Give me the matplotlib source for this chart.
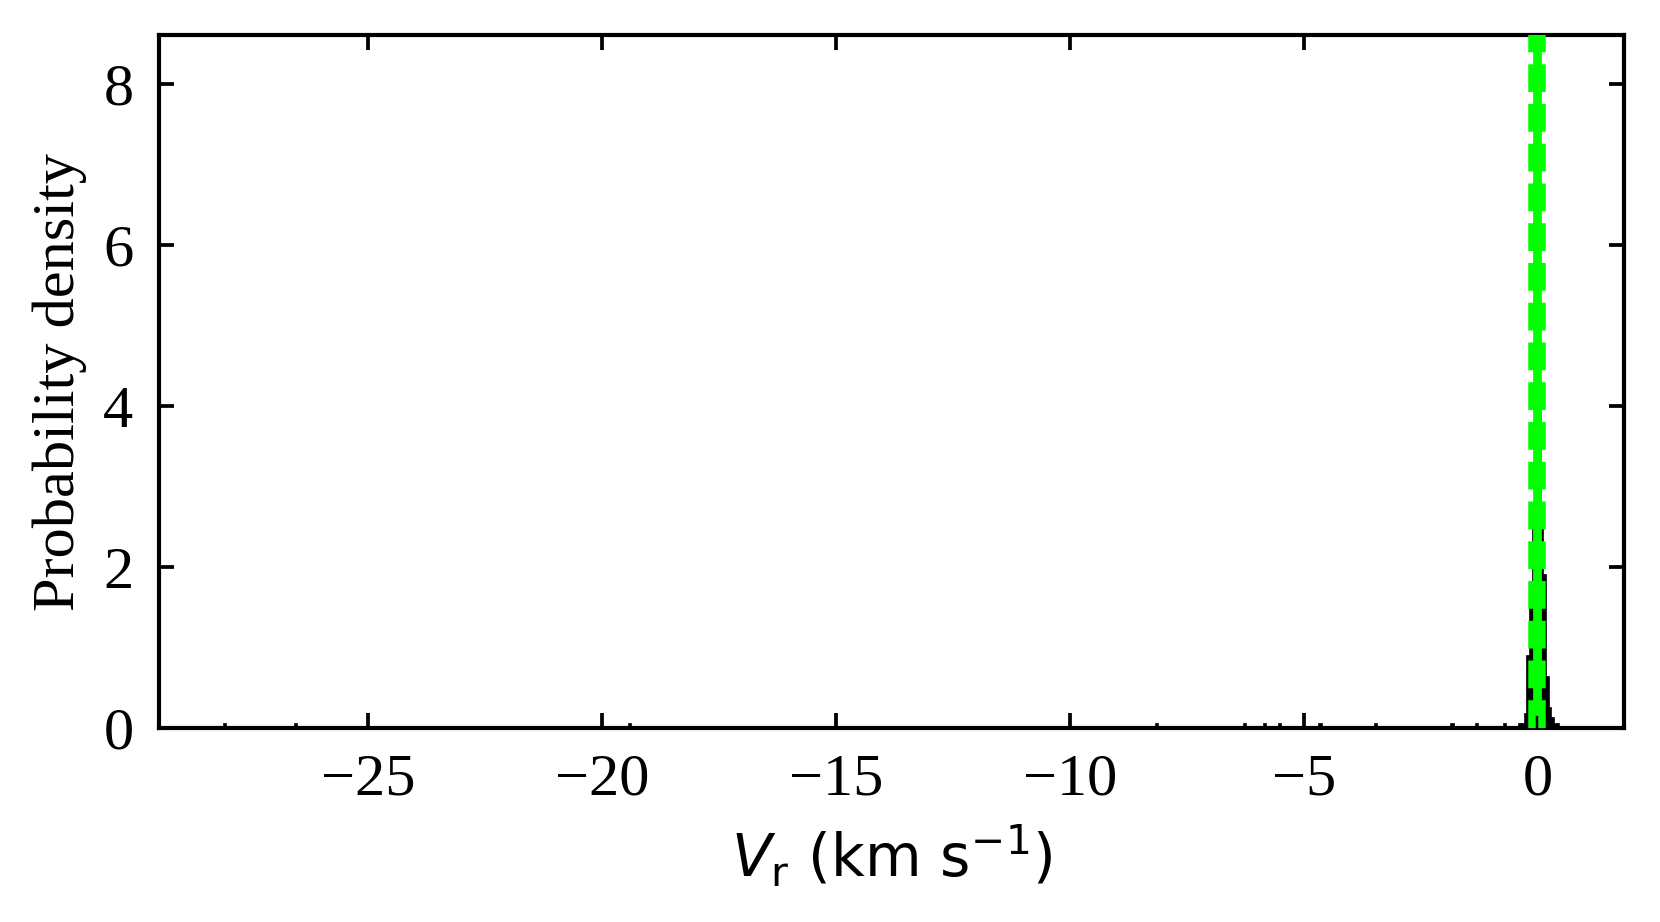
import numpy as np
import matplotlib
matplotlib.use("Agg")
import matplotlib.pyplot as plt

plt.rcParams['font.family'] = ['Liberation Serif', 'DejaVu Serif']
plt.rcParams['mathtext.fontset'] = 'dejavusans'
plt.rcParams['axes.unicode_minus'] = True

# histogram of V_r (density), left bin edges and heights
BIN_W = 0.057
bin_left = [-28.09, -26.57, -19.43, -8.17, -6.29, -5.86, -5.54, -4.67, -3.49,
            -1.85, -1.33, -0.73,
            -0.400, -0.343, -0.286, -0.229, -0.171, -0.114, -0.057, 0.000,
            0.057, 0.114, 0.171, 0.229, 0.286, 0.343, 0.400]
density = [0.045, 0.045, 0.045, 0.045, 0.045, 0.045, 0.045, 0.045, 0.045,
           0.045, 0.045, 0.045,
           0.05, 0.05, 0.17, 0.9, 1.7, 2.6, 3.95, 3.9,
           2.5, 1.9, 0.63, 0.25, 0.12, 0.05, 0.05]

# green markers: spread (dashed) and median (solid)
vline_x = [-0.118, 0.096]
vline_mid = -0.01

xticks = [-25, -20, -15, -10, -5, 0]
yticks = [0, 2, 4, 6, 8]

fig = plt.figure(figsize=(1660/300, 922/300), dpi=300)
ax = fig.add_axes([0.0955, 0.2104, 0.8828, 0.7516])

ax.bar(bin_left, density, width=BIN_W, align='edge', color='black',
       edgecolor='black', linewidth=0.4, zorder=2)

for xv in vline_x:
    ax.axvline(xv, color='#00ff00', ls='--', lw=1.8, zorder=3)
ax.axvline(vline_mid, ymin=0.025, ymax=1, color='#00ff00', lw=2.1, zorder=3)

ax.set_xlim(-29.48, 1.84)
ax.set_ylim(0, 8.61)
ax.set_xticks(xticks)
ax.set_yticks(yticks)
ax.tick_params(direction='in', top=True, right=True, length=3.6, width=0.9,
               labelsize=14.5, pad=6)
for s in ax.spines.values():
    s.set_linewidth(1.0)

ax.set_xlabel(r'$V_\mathrm{r}$ (km s$^{-1}$)', family='DejaVu Sans', fontsize=14)
ax.set_ylabel('Probability density', fontsize=14.5)

fig.savefig('out.png', dpi=300)
